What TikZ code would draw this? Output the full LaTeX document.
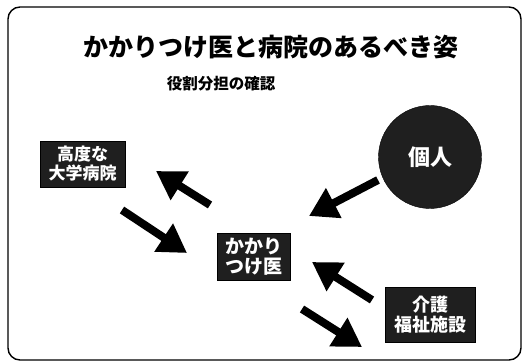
\documentclass[tikz,border=0pt]{standalone}
\usepackage{fontspec}
\setmainfont{Noto Sans CJK JP}
\usetikzlibrary{arrows.meta}
\tikzset{
  blk/.style={fill=black!88, draw=black, text=white, inner sep=0pt, align=center, font=\bfseries},
  bigarrow/.style={line width=8pt, -{Triangle[width=32pt,length=28pt]}, black},
}
\begin{document}
\begin{tikzpicture}[x=1pt,y=-1pt]
\useasboundingbox (0,0) rectangle (527,363);
\draw[line width=1.4pt, rounded corners=12pt] (8,7) rectangle (521,360);
\node[font=\bfseries\fontsize{25}{28}\selectfont] (title) at (271,47) {かかりつけ医と病院のあるべき姿};
\node[font=\bfseries\fontsize{15.5}{18}\selectfont] (sub) at (221,84) {役割分担の確認};
\node[blk, minimum width=85pt, minimum height=46pt, font=\bfseries\fontsize{17}{19}\selectfont] (hosp) at (82.5,164) {高度な\\大学病院};
\node[blk, circle, minimum size=103pt, font=\bfseries\fontsize{22}{24}\selectfont] (indiv) at (430,157) {個人};
\node[blk, minimum width=73pt, minimum height=47pt, font=\bfseries\fontsize{19}{20}\selectfont] (gp) at (253.5,256.5) {かかり\\つけ医};
\node[blk, minimum width=90pt, minimum height=55pt, font=\bfseries\fontsize{18}{20}\selectfont] (care) at (430,314.5) {介護\\福祉施設};
\coordinate (a1s) at (122,210); \coordinate (a1e) at (187,253);
\coordinate (a2s) at (210,205); \coordinate (a2e) at (156,171);
\coordinate (a3s) at (378,180); \coordinate (a3e) at (309,216);
\coordinate (a4s) at (372,300); \coordinate (a4e) at (312,262);
\coordinate (a5s) at (302,309); \coordinate (a5e) at (362,347);
\draw[bigarrow] (a1s) -- (a1e);
\draw[bigarrow] (a2s) -- (a2e);
\draw[bigarrow] (a3s) -- (a3e);
\draw[bigarrow] (a4s) -- (a4e);
\draw[bigarrow] (a5s) -- (a5e);
\end{tikzpicture}
\end{document}
